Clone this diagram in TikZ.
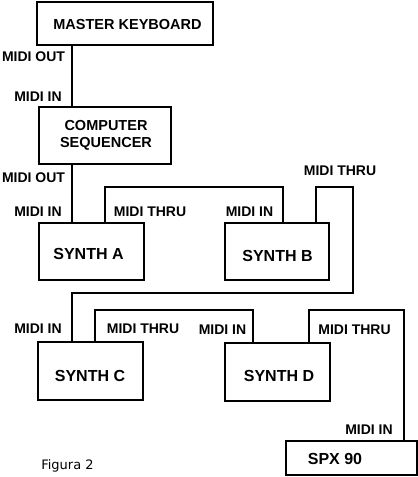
\documentclass[tikz,border=0pt]{standalone}
\usepackage{fontspec}
\setmainfont{Liberation Sans}
\newfontfamily\figfont{DejaVu Sans}
\begin{document}
\begin{tikzpicture}[x=1pt,y=-1pt,
  devbox/.style={draw,line width=1.6pt,inner sep=0pt,minimum width=#1},
  boxtext/.style={inner sep=0pt,font=\bfseries\fontsize{16}{17}\selectfont,align=center},
  bigtext/.style={inner sep=0pt,font=\bfseries\fontsize{14.5}{17}\selectfont,align=center},
  port/.style={inner sep=0pt,font=\bfseries\fontsize{14}{16}\selectfont},
  wire/.style={line width=1.6pt}]
\useasboundingbox (0,0) rectangle (418,477);
% boxes
\node[devbox=176pt,minimum height=43pt] (master) at (125,23.5) {};
\node[devbox=132pt,minimum height=57pt] (seq) at (105,135.5) {};
\node[devbox=105pt,minimum height=57pt] (synthA) at (91.5,251.5) {};
\node[devbox=104pt,minimum height=57pt] (synthB) at (277,251.5) {};
\node[devbox=105pt,minimum height=58pt] (synthC) at (90.5,371) {};
\node[devbox=105pt,minimum height=58pt] (synthD) at (277.5,372) {};
\node[devbox=131pt,minimum height=34pt] (spx) at (351.5,458) {};
% box texts
\node[bigtext] (mastert) at (127.5,25) {MASTER KEYBOARD};
\node[bigtext] (seqt) at (106,135.5) {COMPUTER\\SEQUENCER};
\node[boxtext] (synthAt) at (88.5,254) {SYNTH A};
\node[boxtext] (synthBt) at (277.5,256) {SYNTH B};
\node[boxtext] (synthCt) at (90,376) {SYNTH C};
\node[boxtext] (synthDt) at (279,376) {SYNTH D};
\node[boxtext] (spxt) at (335,459) {SPX 90};
% port labels
\node[port] (l1) at (33.5,57) {MIDI OUT};
\node[port] (l2) at (38,97) {MIDI IN};
\node[port] (l3) at (33.5,178) {MIDI OUT};
\node[port] (l4) at (38,212) {MIDI IN};
\node[port] (l5) at (150,212) {MIDI THRU};
\node[port] (l6) at (249.5,212) {MIDI IN};
\node[port] (l7) at (340,171) {MIDI THRU};
\node[port] (l8) at (38,329) {MIDI IN};
\node[port] (l9) at (143,329) {MIDI THRU};
\node[port] (l10) at (222.5,330) {MIDI IN};
\node[port] (l11) at (354.5,330) {MIDI THRU};
\node[port] (l12) at (369,430) {MIDI IN};
\node[inner sep=0pt,font=\figfont\fontsize{13}{15}\selectfont] (fig) at (67.5,466) {Figura 2};
% bend coordinates
\coordinate (a1) at (105,187);
\coordinate (a2) at (283,187);
\coordinate (b1) at (316,187);
\coordinate (b2) at (353,187);
\coordinate (b3) at (353,293);
\coordinate (b4) at (72,293);
\coordinate (c1) at (95,310);
\coordinate (c2) at (253,310);
\coordinate (d1) at (309,310);
\coordinate (d2) at (404,310);
% wires
\draw[wire] (master.south -| b4) -- (seq.north -| b4);
\draw[wire] (seq.south -| b4) -- (synthA.north -| b4);
\draw[wire] (synthA.north -| a1) -- (a1) -- (a2) -- (synthB.north -| a2);
\draw[wire] (synthB.north -| b1) -- (b1) -- (b2) -- (b3) -- (b4) -- (synthC.north -| b4);
\draw[wire] (synthC.north -| c1) -- (c1) -- (c2) -- (synthD.north -| c2);
\draw[wire] (synthD.north -| d1) -- (d1) -- (d2) -- (spx.north -| d2);
\end{tikzpicture}
\end{document}
